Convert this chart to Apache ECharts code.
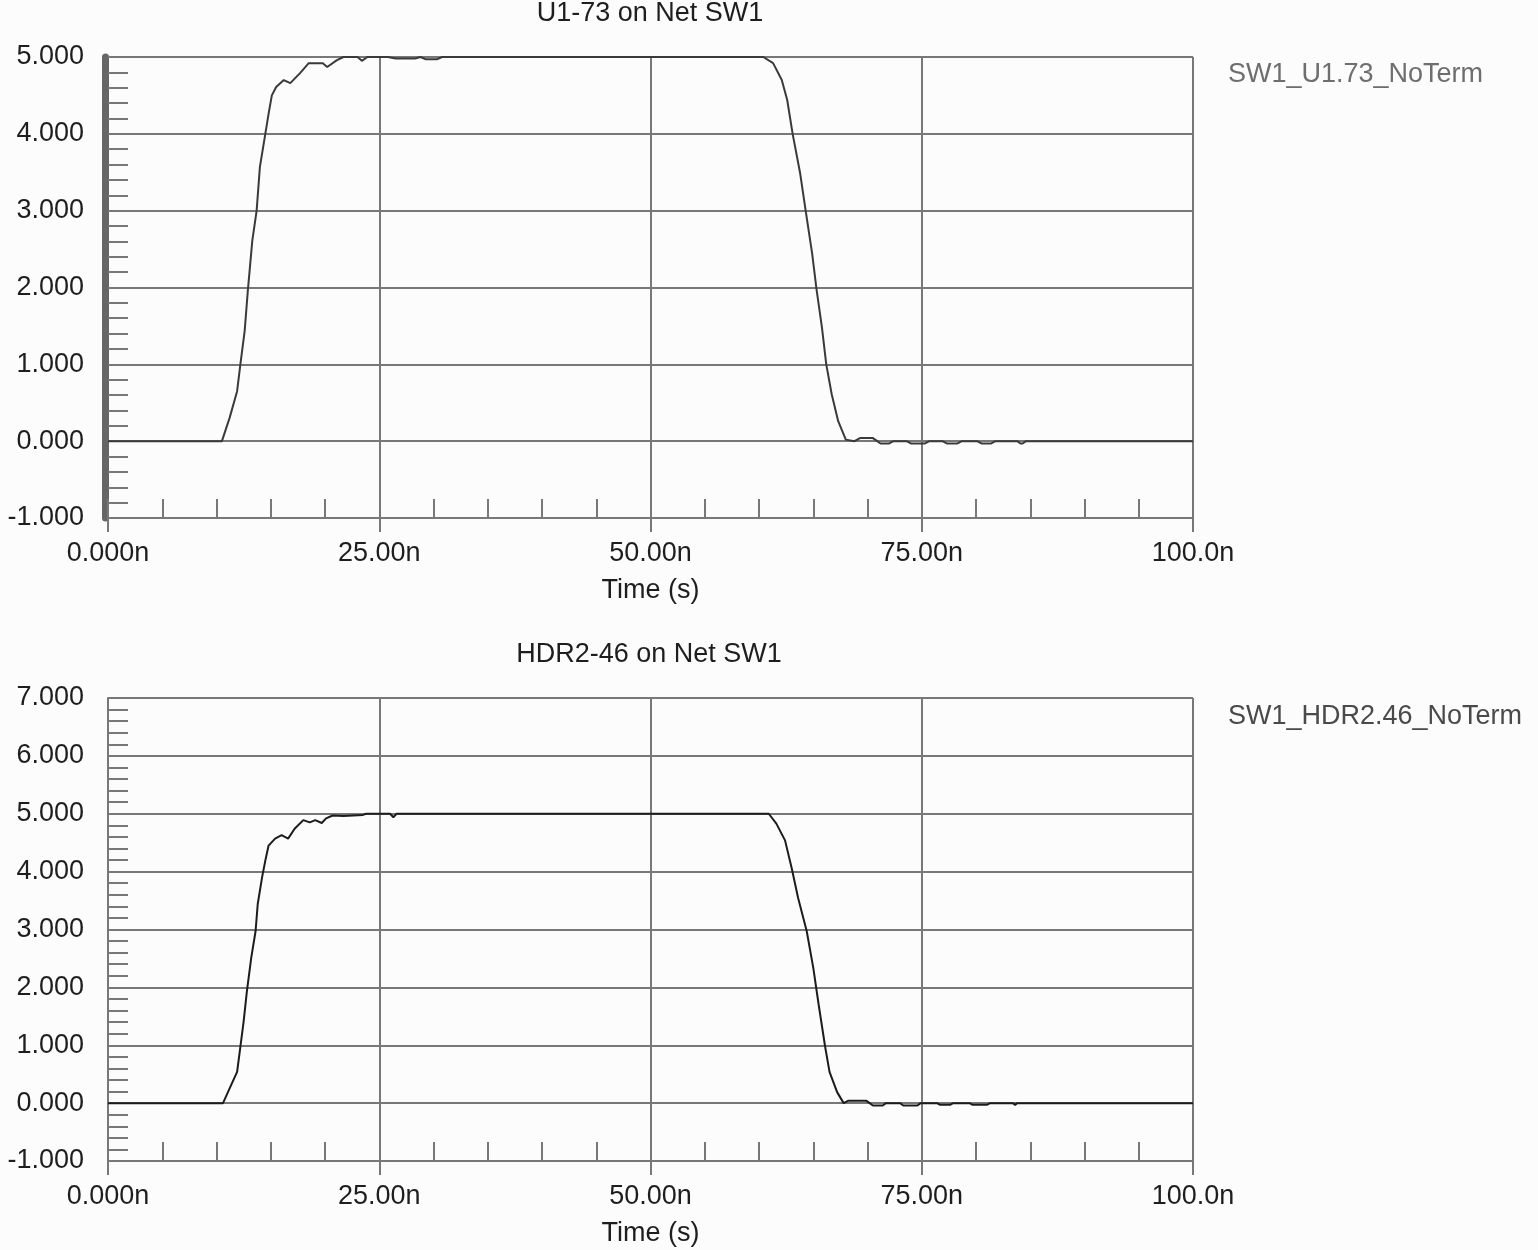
<!DOCTYPE html>
<html>
<head>
<meta charset="utf-8">
<script src="https://cdn.jsdelivr.net/npm/echarts@6/dist/echarts.min.js"></script>
<style>
html,body{margin:0;padding:0;background:#fcfcfc;}
#chart{width:1538px;height:1250px;}
</style>
</head>
<body>
<div id="chart"></div>
<script>
// ---- data (time in ns, voltage in V) ----
const titleTop = 'U1-73 on Net SW1';
const titleBottom = 'HDR2-46 on Net SW1';
const nameTop = 'SW1_U1.73_NoTerm';
const nameBottom = 'SW1_HDR2.46_NoTerm';
const xTickLabels = ['0.000n', '25.00n', '50.00n', '75.00n', '100.0n'];

const tU1 = [0,10.5,11.2,11.9,12.2,12.6,12.9,13.3,13.7,14.0,
  14.5,14.8,15.1,15.5,16.2,16.8,17.7,18.5,19.8,20.2,
  21.1,21.7,23.0,23.4,23.9,25.8,26.5,28.3,28.8,29.3,
  30.3,30.8,60.4,61.3,62.1,62.6,63.1,63.8,64.3,64.9,
  65.3,65.8,66.2,66.7,67.3,68.0,68.8,69.3,70.5,70.9,
  71.2,72.0,72.4,73.6,74.0,75.3,75.7,76.9,77.3,78.3,
  78.7,80.1,80.5,81.4,81.8,83.8,84.1,84.3,84.6,100];
const vU1 = [0,0,0.30,0.65,1.0,1.44,1.98,2.61,3.0,3.57,
  4.0,4.26,4.50,4.61,4.70,4.66,4.79,4.92,4.92,4.87,
  4.96,5.0,5.0,4.95,5.0,5.0,4.98,4.98,5.0,4.97,
  4.97,5.0,5.0,4.92,4.70,4.44,4.0,3.48,3.0,2.44,
  1.98,1.48,1.0,0.61,0.26,0.02,0,0.04,0.04,0,
  -0.03,-0.03,0,0,-0.03,-0.03,0,0,-0.03,-0.03,
  0,0,-0.03,-0.03,0,0,-0.03,-0.03,0,0];

const tHDR = [0,10.6,11.2,11.9,12.2,12.5,12.8,13.2,13.6,13.8,
  14.2,14.5,14.8,15.4,16.0,16.6,17.2,18.0,18.6,19.1,
  19.7,20.1,20.7,21.7,23.5,23.8,26.0,26.3,26.6,60.9,
  61.6,62.4,63.0,63.6,64.4,65.0,65.5,66.1,66.5,67.2,
  67.8,68.2,69.9,70.2,70.5,71.4,71.7,73.0,73.3,74.6,
  74.9,76.4,76.7,77.6,77.9,79.4,79.7,81.0,81.3,83.4,
  83.6,83.8,100];
const vHDR = [0,0,0.25,0.54,0.97,1.41,1.93,2.51,2.97,3.44,
  3.90,4.19,4.45,4.57,4.63,4.57,4.74,4.89,4.85,4.89,
  4.84,4.92,4.97,4.96,4.98,5.0,5.0,4.94,5.0,5.0,
  4.83,4.54,4.07,3.55,2.97,2.34,1.70,0.97,0.54,0.19,
  0.0,0.04,0.04,0,-0.04,-0.04,0,0,-0.04,-0.04,
  0,0,-0.03,-0.03,0,0,-0.03,-0.03,0,0,
  -0.03,0,0];

// ---- chart ----
const FONT = '"Liberation Sans", Arial, sans-serif';
const FS = 27;
const GRID_C = '#787878';
const TXT_C = '#1e1e1e';

function pairs(t, v) { return t.map((x, i) => [x, v[i]]); }

function mainX(gi) {
  return {
    type: 'value', gridIndex: gi, min: 0, max: 100, interval: 25,
    name: 'Time (s)', nameLocation: 'middle', nameGap: 59,
    nameTextStyle: { fontFamily: FONT, fontSize: FS, color: TXT_C },
    axisLine: { onZero: false, lineStyle: { color: GRID_C, width: 2 } },
    axisTick: { show: true, inside: false, length: 14, lineStyle: { color: GRID_C, width: 2 } },
    axisLabel: {
      margin: 22, fontFamily: FONT, fontSize: FS, color: TXT_C,
      formatter: v => xTickLabels[Math.round(v / 25)]
    },
    splitLine: { show: true, lineStyle: { color: GRID_C, width: 2 } }
  };
}
function minorX(gi) {
  return {
    type: 'value', gridIndex: gi, min: 0, max: 100, interval: 5, position: 'bottom',
    axisLine: { show: false, onZero: false },
    axisTick: { show: true, inside: true, length: 19, lineStyle: { color: GRID_C, width: 2 } },
    axisLabel: { show: false },
    splitLine: { show: false }
  };
}
function mainY(gi, max) {
  return {
    type: 'value', gridIndex: gi, min: -1, max: max, interval: 1, position: 'left',
    axisLine: { show: true, onZero: false, lineStyle: { color: GRID_C, width: 2 } },
    axisTick: { show: true, inside: true, length: 20, lineStyle: { color: GRID_C, width: 2 } },
    minorTick: { show: true, splitNumber: 5, length: 20, lineStyle: { color: GRID_C, width: 2 } },
    axisLabel: {
      margin: 24, fontFamily: FONT, fontSize: FS, color: TXT_C,
      formatter: v => v.toFixed(3)
    },
    splitLine: { show: true, lineStyle: { color: GRID_C, width: 2 } }
  };
}

const option = {
  backgroundColor: '#fcfcfc',
  animation: false,
  title: [
    { text: titleTop, left: 650, textAlign: 'center', top: 0, padding: 0,
      textStyle: { fontFamily: FONT, fontSize: FS, fontWeight: 'normal', color: TXT_C } },
    { text: titleBottom, left: 649, textAlign: 'center', top: 641, padding: 0,
      textStyle: { fontFamily: FONT, fontSize: FS, fontWeight: 'normal', color: TXT_C } }
  ],
  legend: [
    { data: [nameTop], left: 1223, top: 61, padding: 0, icon: 'none', itemWidth: 0, itemHeight: 0,
      selectedMode: false, textStyle: { fontFamily: FONT, fontSize: FS, color: '#6e6e6e' } },
    { data: [nameBottom], left: 1223, top: 703, padding: 0, icon: 'none', itemWidth: 0, itemHeight: 0,
      selectedMode: false, textStyle: { fontFamily: FONT, fontSize: FS, color: '#4a4a4a' } }
  ],
  grid: [
    { left: 108, top: 57, width: 1085, height: 461, containLabel: false },
    { left: 108, top: 698, width: 1085, height: 463, containLabel: false }
  ],
  xAxis: [mainX(0), minorX(0), mainX(1), minorX(1)],
  yAxis: [
    mainY(0, 5),
    { type: 'value', gridIndex: 0, min: -1, max: 5, interval: 1, position: 'left', offset: 3,
      axisLine: { show: true, onZero: false, lineStyle: { color: '#666666', width: 7 } },
      axisTick: { show: false }, axisLabel: { show: false }, splitLine: { show: false } },
    mainY(1, 7)
  ],
  series: [
    { name: nameTop, type: 'line', xAxisIndex: 0, yAxisIndex: 0, data: pairs(tU1, vU1),
      showSymbol: false, symbol: 'none', z: 5,
      lineStyle: { color: '#3a3a3a', width: 2 }, itemStyle: { color: '#3a3a3a' } },
    { name: nameBottom, type: 'line', xAxisIndex: 2, yAxisIndex: 2, data: pairs(tHDR, vHDR),
      showSymbol: false, symbol: 'none', z: 5,
      lineStyle: { color: '#1c1c1c', width: 2 }, itemStyle: { color: '#1c1c1c' } }
  ]
};

const chart = echarts.init(document.getElementById('chart'), null, { renderer: 'canvas' });
chart.setOption(option);
</script>
</body>
</html>
